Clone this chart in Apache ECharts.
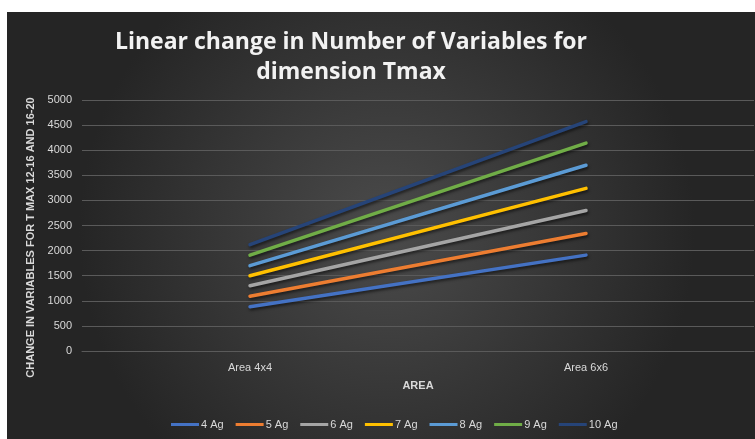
<!DOCTYPE html>
<html><head><meta charset="utf-8">
<script src="https://cdn.jsdelivr.net/npm/echarts@6/dist/echarts.min.js"></script>
<style>html,body{margin:0;padding:0;background:#fff}#c{width:755px;height:439px}</style>
</head><body><div id="c"></div>
<script>
const categories = ['Area 4x4', 'Area 6x6'];
const seriesNames = ['4 Ag', '5 Ag', '6 Ag', '7 Ag', '8 Ag', '9 Ag', '10 Ag'];
const ag4 = [880, 1910];
const ag5 = [1090, 2340];
const ag6 = [1300, 2800];
const ag7 = [1500, 3240];
const ag8 = [1700, 3700];
const ag9 = [1910, 4140];
const ag10 = [2120, 4570];
const yTicks = [0, 500, 1000, 1500, 2000, 2500, 3000, 3500, 4000, 4500, 5000];
const colors = ['#4472C4', '#ED7D31', '#A5A5A5', '#FFC000', '#5B9BD5', '#70AD47', '#264478'];
const allData = [ag4, ag5, ag6, ag7, ag8, ag9, ag10];

const font = "'Liberation Sans Narrow', 'Liberation Sans', sans-serif";
const chart = echarts.init(document.getElementById('c'), null, {renderer: 'canvas'});
chart.setOption({
  backgroundColor: '#ffffff',
  animation: false,
  color: colors,
  graphic: [{
    type: 'rect', z: -10, silent: true,
    shape: {x: 7, y: 12, width: 760, height: 440},
    style: {fill: {type: 'radial', x: 0.5, y: 0.5, r: 0.7,
      colorStops: [{offset: 0, color: '#4b4b4b'}, {offset: 1, color: '#252525'}]}}
  }],
  title: {
    text: 'Linear change in Number of Variables for\ndimension Tmax',
    left: 346, top: 22, textAlign: 'center',
    textStyle: {color: '#f2f2f2', fontSize: 23, fontWeight: 'bold', fontFamily: "'Open Sans', sans-serif", lineHeight: 30}
  },
  legend: {
    data: seriesNames, top: 414, left: 166, width: 620, orient: 'horizontal',
    itemWidth: 28, itemHeight: 3, itemGap: 12, icon: 'rect',
    textStyle: {color: '#d9d9d9', fontSize: 11, fontFamily: font, padding: [0,0,0,-3]}
  },
  grid: {left: 82, right: 1, top: 100, bottom: 88},
  xAxis: {
    type: 'category', data: categories, boundaryGap: true,
    name: 'AREA', nameLocation: 'middle', nameGap: 29,
    nameTextStyle: {color: '#d9d9d9', fontSize: 11, fontWeight: 'bold', fontFamily: font},
    axisLine: {lineStyle: {color: '#5a5a5a'}}, axisTick: {show: false},
    axisLabel: {color: '#d9d9d9', fontSize: 11, fontFamily: font, margin: 11}
  },
  yAxis: {
    type: 'value', min: 0, max: 5000, interval: 500,
    name: 'CHANGE IN VARIABLES FOR T MAX 12-16 AND 16-20', nameLocation: 'middle', nameGap: 34, nameRotate: 90,
    nameTextStyle: {color: '#d9d9d9', fontSize: 11, fontWeight: 'bold', fontFamily: font, padding: [0, 24, 0, 0]},
    axisLine: {show: false}, axisTick: {show: false},
    splitLine: {lineStyle: {color: '#5a5a5a', width: 1}},
    axisLabel: {color: '#d9d9d9', fontSize: 11, fontFamily: font, margin: 10,
      formatter: v => yTicks.includes(v) ? String(v) : ''}
  },
  series: seriesNames.map((n, i) => ({
    name: n, type: 'line', data: allData[i], symbol: 'none',
    lineStyle: {width: 3.5, cap: 'round', shadowColor: 'rgba(0,0,0,0.55)', shadowBlur: 3, shadowOffsetY: 2, shadowOffsetX: 1}
  }))
});
</script></body></html>
